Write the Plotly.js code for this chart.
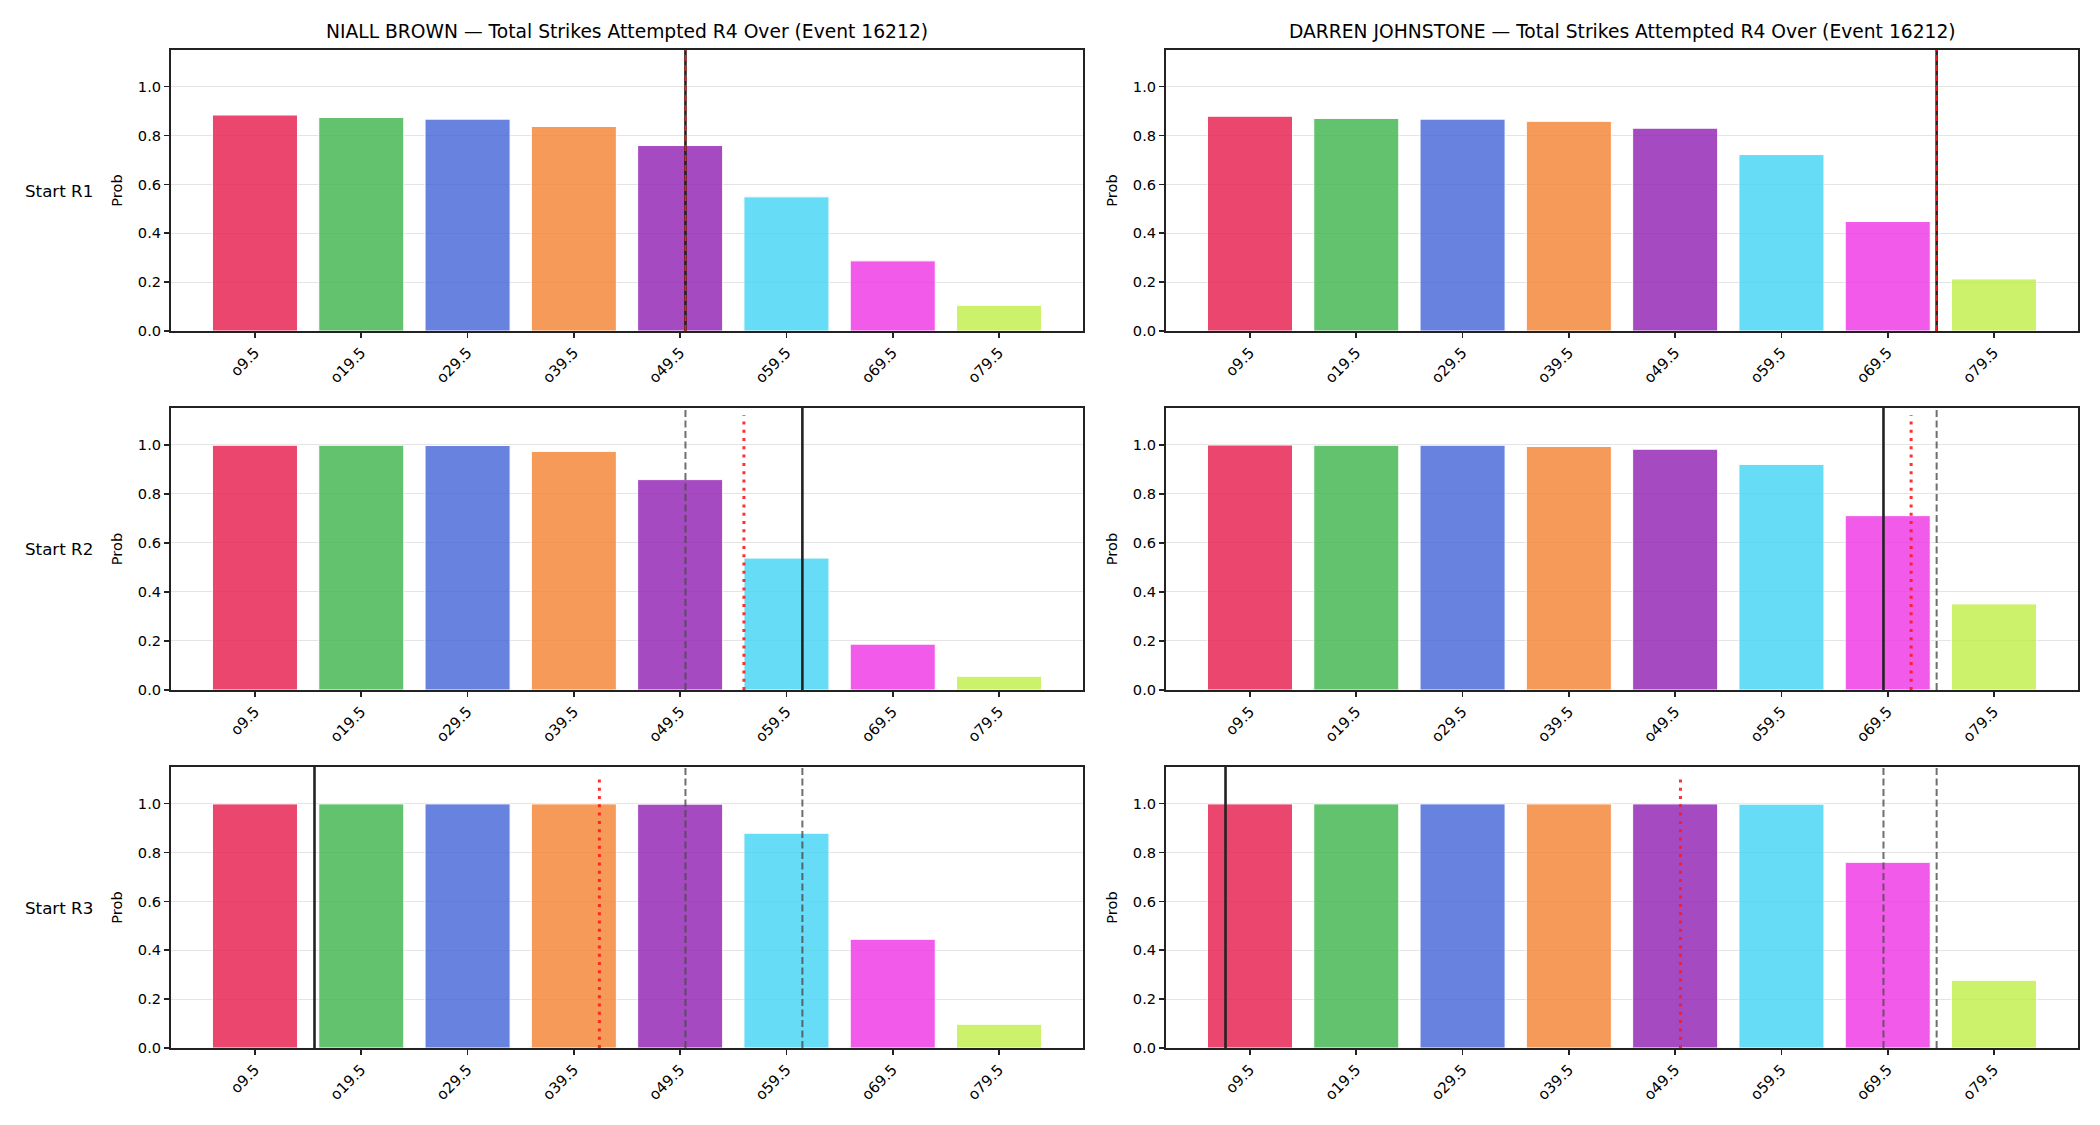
<!DOCTYPE html>
<html>
<head>
<meta charset="utf-8">
<script src="https://cdn.plot.ly/plotly-3.0.1.min.js"></script>
<style>
  html, body { margin: 0; padding: 0; background: #ffffff; }
  #chart { width: 2100px; height: 1125px; }
</style>
</head>
<body>
<div id="chart"></div>
<script>
// Over-line thresholds (strikes) and their tick labels
const thresholds = [9.5, 19.5, 29.5, 39.5, 49.5, 59.5, 69.5, 79.5];
const tickLabels = ['o9.5', 'o19.5', 'o29.5', 'o39.5', 'o49.5', 'o59.5', 'o69.5', 'o79.5'];

// P(over) per threshold, by fighter and starting round
const niallR1 = [0.884, 0.874, 0.867, 0.837, 0.759, 0.549, 0.287, 0.105];
const niallR2 = [0.998, 0.998, 0.997, 0.973, 0.858, 0.538, 0.187, 0.056];
const niallR3 = [0.999, 0.999, 0.999, 0.999, 0.998, 0.879, 0.445, 0.097];
const darrenR1 = [0.879, 0.870, 0.867, 0.858, 0.830, 0.722, 0.448, 0.213];
const darrenR2 = [0.999, 0.998, 0.998, 0.993, 0.982, 0.920, 0.711, 0.351];
const darrenR3 = [0.999, 0.999, 0.999, 0.999, 0.999, 0.998, 0.760, 0.277];

// Projected strikes at each round start (solid) and pace marker (dotted red)
const niallProjected = [50.0, 61.0, 15.1];
const niallPace = [50.0, 55.5, 41.9];
const darrenProjected = [74.1, 69.1, 7.2];
const darrenPace = [74.1, 71.7, 50.0];

const fighters = ['NIALL BROWN', 'DARREN JOHNSTONE'];
const rowLabels = ['Start R1', 'Start R2', 'Start R3'];
const eventId = 16212;

const barColors = ['#e6194b', '#3cb44b', '#4363d8', '#f58231', '#911eb4', '#42d4f4', '#f032e6', '#bfef45'];

const probs = [[niallR1, niallR2, niallR3], [darrenR1, darrenR2, darrenR3]];
const projected = [niallProjected, darrenProjected];
const pace = [niallPace, darrenPace];

const W = 2100, H = 1125;
const colPx = [[171, 1083], [1166, 2078]];
const rowPx = [[50, 331], [408, 690], [767, 1048]];
const FONT = 'DejaVu Sans, sans-serif';
const INK = '#222222';

const data = [];
const shapes = [];
const annotations = [];
const layout = {
  width: W, height: H,
  margin: {l: 0, r: 0, t: 0, b: 0},
  paper_bgcolor: '#ffffff',
  plot_bgcolor: '#ffffff',
  showlegend: false,
  font: {family: FONT, color: '#000000'},
  bargap: 0
};

for (let r = 0; r < 3; r++) {
  for (let c = 0; c < 2; c++) {
    const idx = r * 2 + c + 1;
    const xa = 'x' + (idx === 1 ? '' : idx);
    const ya = 'y' + (idx === 1 ? '' : idx);
    const xKey = 'xaxis' + (idx === 1 ? '' : idx);
    const yKey = 'yaxis' + (idx === 1 ? '' : idx);

    data.push({
      type: 'bar',
      x: thresholds,
      y: probs[c][r],
      width: 8,
      xaxis: xa, yaxis: ya,
      opacity: 0.8,
      marker: {color: barColors, line: {color: '#ffffff', width: 1}},
      hoverinfo: 'x+y'
    });

    layout[xKey] = {
      domain: [colPx[c][0] / W, colPx[c][1] / W],
      anchor: ya,
      range: [1.6, 87.4],
      tickmode: 'array',
      tickvals: thresholds,
      ticktext: tickLabels,
      tickangle: -45,
      tickfont: {family: FONT, size: 15, color: '#000000'},
      ticks: 'outside', ticklen: 5, tickwidth: 1.6, tickcolor: INK,
      showgrid: false, zeroline: false,
      showline: true, linecolor: INK, linewidth: 2, mirror: true,
      fixedrange: true
    };
    layout[yKey] = {
      domain: [1 - rowPx[r][1] / H, 1 - rowPx[r][0] / H],
      anchor: xa,
      range: [0, 1.15],
      tickmode: 'array',
      tickvals: [0, 0.2, 0.4, 0.6, 0.8, 1.0],
      ticktext: ['0.0', '0.2', '0.4', '0.6', '0.8', '1.0'],
      tickfont: {family: FONT, size: 14.6, color: '#000000'},
      ticks: 'outside', ticklen: 5, tickwidth: 1.6, tickcolor: INK,
      showgrid: true, gridcolor: '#e4e4e4', gridwidth: 1,
      zeroline: false,
      showline: true, linecolor: INK, linewidth: 2, mirror: true,
      title: {text: 'Prob', font: {family: FONT, size: 14.6, color: '#000000'}, standoff: 12},
      fixedrange: true
    };

    // Earlier rounds' projections, grey dashed
    for (let p = 0; p < r; p++) {
      shapes.push({
        type: 'line', xref: xa, yref: ya + ' domain', layer: 'above',
        x0: projected[c][p], x1: projected[c][p], y0: 0, y1: 1,
        line: {color: 'rgba(75,75,75,0.8)', width: 2, dash: '7px,3.5px'}
      });
    }
    // Current projection, solid
    shapes.push({
      type: 'line', xref: xa, yref: ya + ' domain', layer: 'above',
      x0: projected[c][r], x1: projected[c][r], y0: 0, y1: 1,
      line: {color: INK, width: 2.6}
    });
    // Pace marker, red dotted
    shapes.push({
      type: 'line', xref: xa, yref: ya, layer: 'above',
      x0: pace[c][r], x1: pace[c][r], y0: 0, y1: r === 0 ? 1.15 : 1.12,
      line: {color: 'rgba(255,25,25,0.9)', width: r === 0 ? 1.8 : 3, dash: r === 0 ? '6px,4px' : '3px,5.3px'}
    });

    if (r === 0) {
      annotations.push({
        text: fighters[c] + ' — Total Strikes Attempted R4 Over (Event ' + eventId + ')',
        xref: 'paper', yref: 'paper',
        x: (colPx[c][0] + colPx[c][1]) / 2 / W, y: 1 - 31 / H,
        xanchor: 'center', yanchor: 'middle', showarrow: false,
        font: {family: FONT, size: 18.7, color: '#000000'}
      });
    }
    if (c === 0) {
      annotations.push({
        text: rowLabels[r],
        xref: 'paper', yref: 'paper',
        x: 23 / W, y: 1 - (rowPx[r][0] + rowPx[r][1]) / 2 / H,
        xanchor: 'left', yanchor: 'middle', showarrow: false,
        font: {family: FONT, size: 16.7, color: '#000000'}
      });
    }
  }
}

layout.shapes = shapes;
layout.annotations = annotations;

Plotly.newPlot('chart', data, layout, {displayModeBar: false, responsive: false, staticPlot: true});
</script>
</body>
</html>
